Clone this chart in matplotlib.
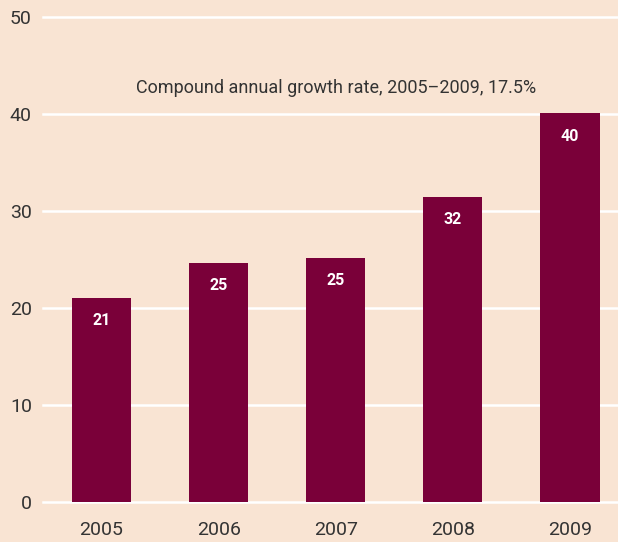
import matplotlib
matplotlib.use("Agg")
import matplotlib.pyplot as plt

years = ["2005", "2006", "2007", "2008", "2009"]
values = [21.1, 24.7, 25.2, 31.5, 40.1]
labels = ["21", "25", "25", "32", "40"]
yticks = [0, 10, 20, 30, 40, 50]
note = "Compound annual growth rate, 2005\u20132009, 17.5%"

BG = "#F9E4D3"
BAR = "#7A0039"
TXT = "#333333"
FAM = ["Roboto", "DejaVu Sans"]

plt.rcParams["font.family"] = FAM

fig = plt.figure(figsize=(6.18, 5.42), dpi=100, facecolor=BG)
ax = fig.add_axes([43/618, 1 - 502/542, 1 - 43/618, (502 - 18)/542 + 0.001])
ax.set_facecolor(BG)

x = list(range(len(years)))
ax.set_ylim(0, 50)
ax.set_xlim(-0.5, 4.41)
for t in yticks:
    ax.axhline(t, color="white", lw=1.8, zorder=1, clip_on=False)
ax.bar(x, values, width=0.505, color=BAR, zorder=2)
for xi, v, l in zip(x, values, labels):
    ax.annotate(l, (xi, v), xytext=(0, -23), textcoords="offset pixels",
                ha="center", va="center", color="white", fontsize=11.5,
                fontweight="bold", zorder=3)

fig.text(336/618, 1 - 88/542, note, ha="center", va="center",
         fontsize=13, color=TXT)

ax.set_yticks(yticks)
ax.set_yticklabels([str(t) for t in yticks], fontsize=14, color=TXT)
ax.set_xticks(x)
ax.set_xticklabels(years, fontsize=14, color=TXT)
ax.tick_params(axis="both", length=0)
ax.tick_params(axis="y", pad=8)
ax.tick_params(axis="x", pad=14)
for s in ax.spines.values():
    s.set_visible(False)

fig.savefig("out.png", dpi=100, facecolor=BG)
